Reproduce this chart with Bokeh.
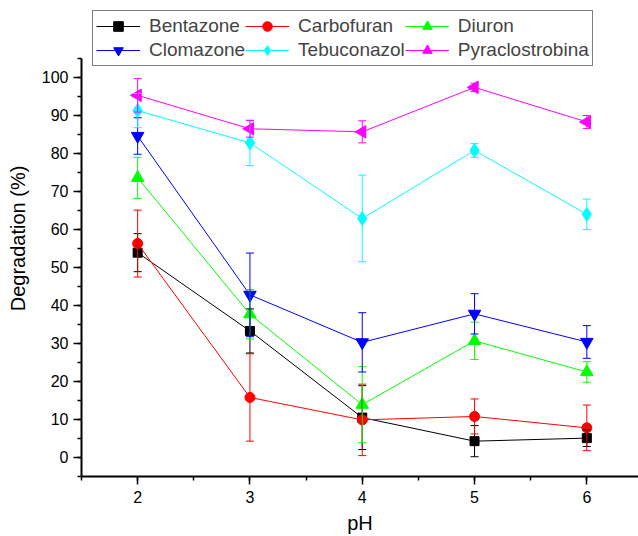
import numpy as np
from bokeh.plotting import figure
from bokeh.models import (ColumnDataSource, Whisker, TeeHead, Legend, LegendItem,
                          SingleIntervalTicker, Range1d)
from bokeh.embed import file_html
from bokeh.resources import INLINE

# pH values tested
ph = [2, 3, 4, 5, 6]

# Mean degradation (%) and standard deviation per pesticide
bentazone = [53.9, 33.3, 10.5, 4.3, 5.1]
bentazone_err = [5.0, 5.8, 8.4, 4.1, 2.2]

carbofuran = [56.3, 15.8, 9.9, 10.8, 7.8]
carbofuran_err = [8.8, 11.5, 9.4, 4.6, 6.0]

diuron = [73.6, 37.7, 13.9, 30.7, 22.5]
diuron_err = [5.4, 6.5, 10.0, 4.9, 2.7]

clomazone = [84.6, 42.8, 30.3, 37.8, 30.4]
clomazone_err = [4.8, 11.0, 7.8, 5.3, 4.3]

tebuconazol = [91.3, 82.8, 62.9, 80.8, 64.0]
tebuconazol_err = [4.5, 6.0, 11.4, 1.8, 4.0]

pyraclostrobina = [95.3, 86.5, 85.7, 97.4, 88.3]
pyraclostrobina_err = [4.4, 2.2, 2.9, 1.1, 1.7]

FONT = "Liberation Sans"

# The frame reaches the top of the canvas so the legend sits inside it;
# the y axis itself is bounded to -5..105.
p = figure(width=638, height=536, output_backend="svg", toolbar_location=None,
           x_range=Range1d(1.5, 6.46), y_range=Range1d(-5, 120.26),
           min_border_left=81, min_border_right=0, min_border_top=0,
           min_border_bottom=60)
p.outline_line_color = None
p.grid.visible = False
p.background_fill_color = "white"
p.border_fill_color = "white"

series = [
    ("Bentazone", bentazone, bentazone_err, "#000000", "square", 9, 0.0),
    ("Carbofuran", carbofuran, carbofuran_err, "#ff0000", "circle", 10, 0.0),
    ("Diuron", diuron, diuron_err, "#00ff00", "triangle", 12.5, 0.0),
    ("Clomazone", clomazone, clomazone_err, "#0000ff", "inverted_triangle", 12.5, 0.0),
    ("Tebuconazol", tebuconazol, tebuconazol_err, "#00ffff", "diamond", 14, 0.0),
    ("Pyraclostrobina", pyraclostrobina, pyraclostrobina_err, "#ff00ff", "triangle", 12.5, np.pi / 2),
]

items = {}
for name, vals, errs, color, marker, size, angle in series:
    v = np.array(vals)
    e = np.array(errs)
    src = ColumnDataSource(dict(x=ph, y=vals, upper=list(v + e), lower=list(v - e)))
    w = Whisker(base="x", upper="upper", lower="lower", source=src,
                line_color=color, line_width=1, level="glyph",
                upper_head=TeeHead(size=8, line_color=color, line_width=1),
                lower_head=TeeHead(size=8, line_color=color, line_width=1))
    p.add_layout(w)
    ln = p.line("x", "y", source=src, line_color=color, line_width=1)
    sc = p.scatter("x", "y", source=src, marker=marker, size=size, angle=angle,
                   fill_color=color, line_color=color)
    items[name] = LegendItem(label=name, renderers=[ln, sc])

order = ["Bentazone", "Clomazone", "Carbofuran", "Tebuconazol", "Diuron", "Pyraclostrobina"]
legend = Legend(items=[items[n] for n in order], ncols=3, location=(11, 410),
                label_text_font=FONT, label_text_font_size="19px",
                glyph_width=44, glyph_height=24, label_standoff=9,
                spacing=0, padding=3, margin=0,
                border_line_color="black", border_line_width=1,
                background_fill_alpha=1.0, label_height=19)
p.add_layout(legend, "center")

# Axes
p.xaxis.ticker = SingleIntervalTicker(interval=1, num_minor_ticks=2)
p.yaxis.ticker = SingleIntervalTicker(interval=10, num_minor_ticks=2)
p.yaxis.bounds = (-5, 105)
for ax in (p.xaxis[0], p.yaxis[0]):
    ax.axis_line_width = 2
    ax.major_tick_line_width = 1.5
    ax.minor_tick_line_width = 1.5
    ax.major_tick_in = 0
    ax.major_tick_out = 8
    ax.minor_tick_in = 0
    ax.minor_tick_out = 4
    ax.major_label_text_font = FONT
    ax.major_label_text_font_size = "16px"
    ax.major_label_text_color = "black"
    ax.axis_label_text_font = FONT
    ax.axis_label_text_font_size = "20px"
    ax.axis_label_text_font_style = "normal"
    ax.axis_label_text_color = "black"
    ax.major_label_standoff = 5

p.xaxis.axis_label = "pH"
p.yaxis.axis_label = "Degradation (%)"
p.xaxis.major_label_standoff = 6
p.xaxis.axis_label_standoff = 6
p.yaxis.axis_label_standoff = 10

open("out.html", "w").write(file_html(p, INLINE))
